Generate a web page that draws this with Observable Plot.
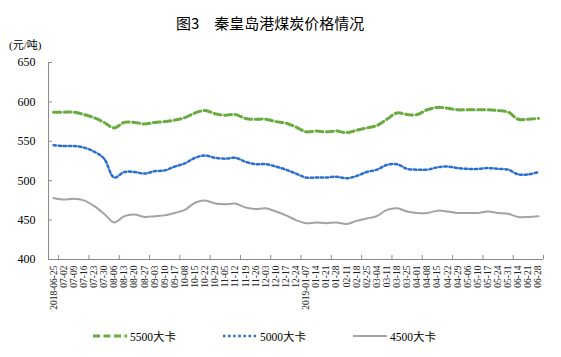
<!DOCTYPE html>
<html><head><meta charset="utf-8">
<script src="https://cdn.jsdelivr.net/npm/d3@7"></script>
<script src="https://cdn.jsdelivr.net/npm/@observablehq/plot@0.6"></script>
<style>
body{margin:0;background:#fff;}
#wrap{position:relative;width:561px;height:357px;overflow:hidden;font-family:"Liberation Serif","Noto Sans CJK SC",serif;color:#000;}
#title{position:absolute;left:176px;top:13px;font-family:"Noto Sans CJK SC",sans-serif;font-size:15px;line-height:20px;white-space:pre;}
#unit{position:absolute;left:9px;top:38px;font-size:11px;line-height:14px;font-family:"Liberation Serif","Noto Sans CJK SC",serif;}
#chart{position:absolute;left:0;top:0;}
.leg{position:absolute;top:328px;height:16px;display:flex;align-items:center;font-size:11.5px;white-space:nowrap;}
.leg svg{margin-right:3px;}
</style></head>
<body><div id="wrap">
<div id="chart"></div>
<div id="title">图3　秦皇岛港煤炭价格情况</div>
<div id="unit">(元/吨)</div>
<div id="legend"></div>
</div>
<script>
const dates = ["2018-06-25","07-02","07-09","07-16","07-23","07-30","08-06","08-13","08-20","08-27","09-03","09-10","09-17","10-08","10-15","10-22","10-29","11-05","11-12","11-19","11-26","12-03","12-10","12-17","12-24","2019-01-07","01-14","01-21","01-28","02-11","02-18","02-25","03-04","03-11","03-18","03-25","04-01","04-08","04-15","04-22","04-29","05-06","05-10","05-17","05-24","05-31","06-14","06-21","06-28"];
const p5500 = [587,587,587,584,580,574,567,574,574,572,574,575,577,580,586,589,585,583,584,579,578,578,575,573,568,562,563,562,563,561,564,567,570,578,586,584,584,590,593,592,590,590,590,590,589,587,578,578,579];
const p5000 = [545,544,544,542,537,528,504,511,511,509,512,513,518,522,529,532,529,528,529,524,521,521,518,514,509,504,504,504,505,503,506,511,514,520,521,515,514,514,517,518,516,515,515,516,515,514,508,508,511];
const p4500 = [478,476,477,475,468,458,447,455,457,454,455,456,459,463,472,475,471,470,471,466,464,465,461,456,450,446,447,446,447,445,449,452,455,463,465,461,459,459,462,461,459,459,459,461,459,458,454,454,455];
const seriesNames = ["5500大卡","5000大卡","4500大卡"];
const yTicks = [400,450,500,550,600,650];

const colors = ["#6aab3f","#2a6fcf","#a3a3a3"];
const styles = [
  {stroke: colors[0], strokeWidth: 3, strokeDasharray: "7,3.5"},
  {stroke: colors[1], strokeWidth: 2.5, strokeDasharray: "2.5,2.6"},
  {stroke: colors[2], strokeWidth: 2}
];
const allSeries = [p5500, p5000, p4500];
const idx = dates.map((d, i) => i);
const boundaries = d3.range(0.5, dates.length, 3);
const axisColor = "#8a8a8a";

const marks = [
  Plot.ruleY([400], {stroke: axisColor, strokeWidth: 1}),
  Plot.ruleX([-0.5], {stroke: axisColor, strokeWidth: 1}),
  Plot.axisY({ticks: yTicks, tickSize: 0, tickPadding: 13, tickFormat: d => d, fontSize: 12, fill: "#000"}),
  Plot.axisY({ticks: yTicks, tickSize: -4, tickFormat: () => "", stroke: axisColor}),
  Plot.axisX({ticks: boundaries, tickSize: -4, tickFormat: () => "", stroke: axisColor}),
  Plot.axisX({ticks: idx, tickSize: 0, tickPadding: 6, tickRotate: -90, tickFormat: i => dates[i], fontSize: 9.5, fill: "#222"})
];
allSeries.forEach((s, k) => {
  marks.push(Plot.line(idx, {x: i => i, y: i => s[i], curve: "catmull-rom", ...styles[k]}));
});

const chart = Plot.plot({
  width: 561, height: 357,
  marginLeft: 48, marginRight: 18, marginTop: 62, marginBottom: 98,
  style: {fontFamily: "'Liberation Serif','Noto Sans CJK SC',serif", background: "transparent"},
  x: {type: "linear", domain: [-0.5, dates.length - 0.5], axis: null},
  y: {domain: [400, 650], axis: null},
  marks
});
document.getElementById("chart").appendChild(chart);

const legX = [93, 223, 353];
const legend = document.getElementById("legend");
seriesNames.forEach((name, k) => {
  const div = document.createElement("div");
  div.className = "leg";
  div.style.left = legX[k] + "px";
  const st = styles[k];
  div.innerHTML = `<svg width="34" height="8"><line x1="0" y1="4" x2="34" y2="4" stroke="${st.stroke}" stroke-width="${st.strokeWidth}" ${st.strokeDasharray ? `stroke-dasharray="${st.strokeDasharray}"` : ""}/></svg><span>${name}</span>`;
  legend.appendChild(div);
});
</script>
</body></html>
